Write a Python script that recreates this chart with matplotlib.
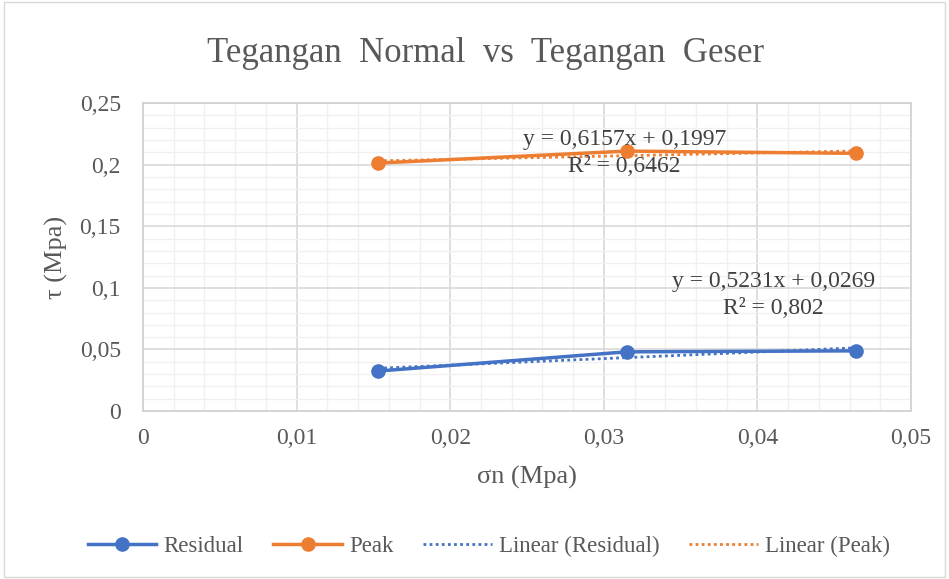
import numpy as np
import matplotlib.pyplot as plt
from matplotlib.ticker import MultipleLocator, FuncFormatter
from matplotlib.patches import Rectangle

# data
sigma_n = [0.0153, 0.0315, 0.0464]
residual = [0.0325, 0.0481, 0.0489]
peak = [0.2013, 0.2110, 0.2092]

eq_residual = ["y = 0,5231x + 0,0269", "R² = 0,802"]
eq_peak = ["y = 0,6157x + 0,1997", "R² = 0,6462"]

blue = "#4472C4"
orange = "#ED7D31"
text_col = "#595959"

plt.rcParams['font.family'] = ['Liberation Serif', 'DejaVu Serif']

fig = plt.figure(figsize=(9.49, 5.79), dpi=100)
fig.patches.append(Rectangle((0.004, 0.004), 0.992, 0.992, transform=fig.transFigure,
                             fill=False, edgecolor="#D9D9D9", linewidth=1))
ax = fig.add_axes([0.1507, 0.290, 0.8093, 0.532])


def comma(v, pos):
    s = ("%.2f" % v).rstrip("0").rstrip(".")
    return s.replace(".", ",")


ax.plot(sigma_n, residual, color=blue, lw=2.5, marker="o", ms=9.5, label="Residual", zorder=4)
ax.plot(sigma_n, peak, color=orange, lw=2.5, marker="o", ms=9.5, label="Peak", zorder=4)

xs = np.array([sigma_n[0], sigma_n[-1]])
m, b = np.polyfit(sigma_n, residual, 1)
ax.plot(xs, m * xs + b, color=blue, lw=2, ls=(0, (1, 1.2)), label="Linear (Residual)", zorder=3)
m, b = np.polyfit(sigma_n, peak, 1)
ax.plot(xs, m * xs + b, color=orange, lw=2, ls=(0, (1, 1.2)), label="Linear (Peak)", zorder=3)

ax.text(0.03136, 0.2205, eq_peak[0], ha="center", va="center", fontsize=17, color="#404040", zorder=5)
ax.text(0.03136, 0.1985, eq_peak[1], ha="center", va="center", fontsize=17, color="#404040", zorder=5)
ax.text(0.04104, 0.1055, eq_residual[0], ha="center", va="center", fontsize=17, color="#404040", zorder=5)
ax.text(0.04104, 0.0835, eq_residual[1], ha="center", va="center", fontsize=17, color="#404040", zorder=5)

ax.set_xlim(0, 0.05)
ax.set_ylim(0, 0.25)
ax.xaxis.set_major_locator(MultipleLocator(0.01))
ax.xaxis.set_minor_locator(MultipleLocator(0.002))
ax.yaxis.set_major_locator(MultipleLocator(0.05))
ax.yaxis.set_minor_locator(MultipleLocator(0.01))
ax.xaxis.set_major_formatter(FuncFormatter(comma))
ax.yaxis.set_major_formatter(FuncFormatter(comma))
ax.grid(which="major", color="#D9D9D9", lw=1.2)
ax.grid(which="minor", color="#F0F0F0", lw=1)
ax.set_axisbelow(True)
ax.tick_params(which="both", length=0, labelsize=17, labelcolor=text_col)
ax.tick_params(axis="x", pad=12)
ax.tick_params(axis="y", pad=16)
for s in ax.spines.values():
    s.set_color("#D0D0D0")
    s.set_linewidth(1.2)

ax.set_xlabel("σn (Mpa)", fontsize=19, color=text_col, labelpad=12)
ax.set_ylabel("τ (Mpa)", fontsize=19, color=text_col, labelpad=8)
fig.text(0.512, 0.907, "Tegangan  Normal  vs  Tegangan  Geser", ha="center", va="center",
         fontsize=25, color=text_col)

fig.legend(loc="center", bbox_to_anchor=(0.515, 0.057), ncol=4, frameon=False,
           fontsize=16.5, labelcolor=text_col, handlelength=3, columnspacing=1.3,
           handletextpad=0.3)

fig.savefig("out.png", dpi=100)
